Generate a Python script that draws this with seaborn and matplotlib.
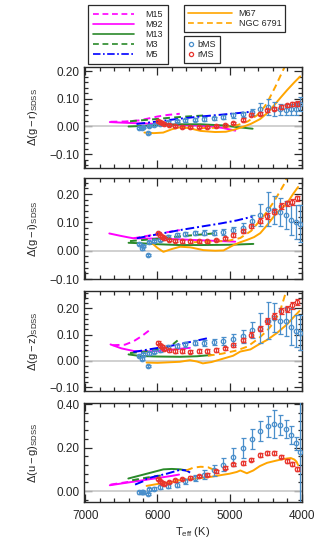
import matplotlib
matplotlib.use('Agg')
import matplotlib.pyplot as plt
import matplotlib.ticker as mticker
from matplotlib.lines import Line2D
import seaborn as sns

# ---------------- data ----------------
# bMS / rMS binned points, shared Teff grid for all four colours
bms_teff = [6250, 6220, 6195, 6135, 6120, 6045, 5960, 5860, 5730, 5615, 5475, 5350, 5210,
            5085, 4945, 4815, 4690, 4575, 4470, 4380, 4295, 4215, 4145, 4075, 4020]
rms_teff = [5985, 5960, 5940, 5915, 5845, 5755, 5660, 5545, 5430, 5315, 5190, 5060, 4945,
            4815, 4705, 4575, 4480, 4380, 4280, 4205, 4135, 4065]

# g-r
gr_bms = [-0.005, -0.005, -0.001, -0.023, 0.001, 0.005, 0.009, 0.015, 0.020, 0.022, 0.025, 0.027, 0.030,
          0.034, 0.040, 0.044, 0.053, 0.062, 0.071, 0.064, 0.062, 0.061, 0.062, 0.065, 0.080]
gr_bms_err = [0.003, 0.003, 0.003, 0.003, 0.003, 0.003, 0.004, 0.004, 0.004, 0.005, 0.005, 0.006, 0.006,
              0.007, 0.008, 0.010, 0.012, 0.022, 0.028, 0.025, 0.020, 0.020, 0.020, 0.022, 0.025]
gr_rms = [0.021, 0.015, 0.012, 0.009, 0.004, 0.001, -0.001, -0.002, -0.002, -0.002, 0.001, 0.006, 0.013,
          0.025, 0.042, 0.046, 0.058, 0.065, 0.071, 0.076, 0.082, 0.083]
gr_rms_err = [0.004] * 14 + [0.005, 0.006, 0.006, 0.006, 0.007, 0.007, 0.008, 0.008]

# g-i
gi_bms = [0.024, 0.008, 0.016, -0.015, 0.032, 0.035, 0.038, 0.049, 0.055, 0.059, 0.061, 0.064, 0.064,
          0.067, 0.073, 0.082, 0.106, 0.126, 0.146, 0.143, 0.138, 0.125, 0.110, 0.100, 0.095]
gi_bms_err = [0.004, 0.004, 0.004, 0.004, 0.004, 0.004, 0.005, 0.005, 0.006, 0.006, 0.007, 0.008, 0.009,
              0.010, 0.012, 0.015, 0.020, 0.040, 0.060, 0.050, 0.050, 0.050, 0.055, 0.060, 0.065]
gi_rms = [0.061, 0.055, 0.049, 0.044, 0.038, 0.035, 0.034, 0.034, 0.034, 0.034, 0.038, 0.044, 0.055,
          0.071, 0.087, 0.106, 0.122, 0.138, 0.158, 0.167, 0.173, 0.185]
gi_rms_err = [0.005] * 12 + [0.006, 0.007, 0.008, 0.009, 0.010, 0.010, 0.010, 0.010, 0.010, 0.010]

# g-z
gz_bms = [0.019, 0.009, 0.025, -0.019, 0.029, 0.035, 0.042, 0.054, 0.057, 0.063, 0.069, 0.069, 0.072,
          0.075, 0.082, 0.094, 0.117, 0.126, 0.153, 0.164, 0.153, 0.151, 0.130, 0.113, 0.107]
gz_bms_err = [0.005, 0.005, 0.005, 0.005, 0.005, 0.005, 0.006, 0.007, 0.008, 0.009, 0.010, 0.011, 0.012,
              0.015, 0.020, 0.025, 0.030, 0.057, 0.070, 0.055, 0.050, 0.055, 0.070, 0.060, 0.066]
gz_rms = [0.069, 0.060, 0.054, 0.047, 0.040, 0.038, 0.038, 0.036, 0.038, 0.038, 0.042, 0.048, 0.060,
          0.079, 0.100, 0.123, 0.151, 0.170, 0.189, 0.197, 0.211, 0.223]
gz_rms_err = [0.006] * 12 + [0.007, 0.008, 0.009, 0.010, 0.011, 0.012, 0.012, 0.012, 0.012, 0.012]

# u-g
ug_bms = [-0.006, -0.006, -0.006, -0.014, 0.008, 0.012, 0.018, 0.024, 0.030, 0.045, 0.061, 0.076, 0.095,
          0.121, 0.156, 0.197, 0.239, 0.277, 0.297, 0.308, 0.303, 0.285, 0.258, 0.221, 0.182]
ug_bms_err = [0.005, 0.005, 0.005, 0.005, 0.006, 0.007, 0.008, 0.010, 0.012, 0.013, 0.015, 0.020, 0.025,
              0.030, 0.040, 0.045, 0.045, 0.045, 0.050, 0.065, 0.045, 0.040, 0.040, 0.030, 0.450]
ug_rms = [0.055, 0.045, 0.039, 0.035, 0.042, 0.050, 0.055, 0.062, 0.070, 0.076, 0.091, 0.108, 0.123,
          0.129, 0.145, 0.167, 0.176, 0.176, 0.159, 0.138, 0.123, 0.103]
ug_rms_err = [0.006] * 12 + [0.007, 0.008, 0.008, 0.009, 0.009, 0.009, 0.009, 0.009, 0.009, 0.009]

# cluster fiducial sequences: (teff, delta) per panel
gr_m15 = ([6650, 6450, 6250, 6000, 5850, 5690], [0.017, 0.018, 0.022, 0.036, 0.042, 0.046])
gr_m92 = ([6660, 6500, 6300, 6100, 5900, 5700, 5500, 5300, 5100, 4920],
          [0.016, 0.014, 0.012, 0.010, 0.008, 0.006, 0.004, 0.001, -0.005, -0.015])
gr_m13 = ([6400, 6200, 6000, 5700, 5400, 5100, 4900, 4680], [0.0, 0.002, 0.005, 0.008, 0.008, 0.004, -0.002, -0.008])
gr_m3 = ([6380, 6100, 5850, 5600, 5340], [0.019, 0.025, 0.031, 0.036, 0.040])
gr_m5 = ([6290, 6000, 5700, 5400, 5100, 4900, 4670], [0.009, 0.018, 0.028, 0.036, 0.043, 0.048, 0.054])
gr_m67 = ([6180, 6050, 5920, 5800, 5690, 5560, 5400, 5200, 5050, 4940, 4800, 4700, 4575, 4480, 4390, 4290, 4200, 4100, 4020],
          [-0.022, -0.024, -0.022, -0.010, -0.003, -0.006, -0.016, -0.020, -0.019, -0.012, 0.0, 0.010, 0.027,
           0.048, 0.074, 0.105, 0.132, 0.160, 0.181])
gr_n6791 = ([5400, 5100, 4900, 4750, 4620, 4520, 4480, 4364, 4271, 4200],
            [-0.006, -0.004, 0.004, 0.018, 0.040, 0.070, 0.085, 0.144, 0.196, 0.235])

gi_m15 = ([6330, 6150, 6000, 5850, 5690], [0.044, 0.052, 0.059, 0.066, 0.073])
gi_m92 = ([6667, 6520, 6400, 6333, 6150, 6008, 5685, 5222, 4921],
          [0.061, 0.053, 0.047, 0.044, 0.043, 0.043, 0.040, 0.035, 0.032])
gi_m13 = ([6400, 6200, 6000, 5700, 5400, 5000, 4670], [0.028, 0.026, 0.023, 0.020, 0.020, 0.021, 0.024])
gi_m3 = ([6380, 6100, 5800, 5500, 5220], [0.034, 0.040, 0.048, 0.055, 0.061])
gi_m5 = ([6286, 6000, 5685, 5400, 5130, 4900, 4690], [0.044, 0.058, 0.073, 0.085, 0.096, 0.107, 0.120])
gi_m67 = ([6080, 6000, 5917, 5800, 5685, 5546, 5361, 5200, 5083, 4944, 4850, 4759, 4660, 4574, 4480, 4389, 4300, 4204, 4120, 4050],
          [0.028, 0.010, -0.004, 0.006, 0.014, 0.012, 0.002, 0.0, 0.001, 0.020, 0.030, 0.038, 0.048, 0.062,
           0.090, 0.120, 0.145, 0.167, 0.200, 0.225])
gi_n6791 = ([5500, 5200, 5000, 4850, 4700, 4600, 4480, 4380, 4250, 4180],
            [0.030, 0.032, 0.036, 0.045, 0.070, 0.100, 0.138, 0.175, 0.232, 0.270])

gz_m15 = ([6620, 6450, 6330, 6220, 6120], [0.060, 0.062, 0.075, 0.094, 0.115])
gz_m92 = ([6650, 6500, 6330, 6150, 5900, 5700, 5550], [0.063, 0.048, 0.038, 0.036, 0.040, 0.046, 0.050])
gz_m13 = ([6400, 6240, 6000, 5685, 5450, 5245], [0.025, 0.019, 0.017, 0.016, 0.018, 0.023])
gz_m3 = ([6380, 6200, 5950, 5800, 5720], [0.030, 0.035, 0.045, 0.060, 0.078])
gz_m5 = ([6333, 6100, 5824, 5550, 5314], [0.034, 0.045, 0.057, 0.072, 0.086])
gz_m67 = ([6150, 6000, 5850, 5690, 5550, 5450, 5370, 5250, 5100, 4950, 4850, 4710, 4600, 4480, 4340, 4200, 4100, 4030],
          [-0.006, -0.007, -0.005, -0.003, 0.003, -0.002, -0.009, -0.004, 0.008, 0.020, 0.036, 0.044, 0.062,
           0.080, 0.107, 0.140, 0.170, 0.190])
gz_n6791 = ([5300, 5100, 4900, 4750, 4600, 4480, 4390, 4300, 4250, 4210],
            [0.020, 0.028, 0.040, 0.055, 0.085, 0.115, 0.145, 0.190, 0.233, 0.270])

ug_m15 = ([6650, 6450, 6250, 6050], [0.030, 0.040, 0.050, 0.060])
ug_m92 = ([6660, 6400, 6100, 5800, 5700], [0.027, 0.040, 0.055, 0.070, 0.076])
ug_m13 = ([6403, 6147, 5917, 5800, 5685, 5592], [0.058, 0.080, 0.100, 0.102, 0.100, 0.095])
ug_m3 = ([6350, 6150, 5950], [0.050, 0.062, 0.072])
ug_m5 = ([6310, 6200, 6147, 6000, 5870, 5685, 5592, 5546], [0.030, 0.045, 0.058, 0.070, 0.080, 0.098, 0.094, 0.085])
ug_m67 = ([6150, 5960, 5800, 5690, 5550, 5400, 5250, 5130, 5000, 4900, 4850, 4760, 4670, 4580, 4480, 4380, 4290, 4200, 4150, 4100, 4070, 4050],
          [0.024, 0.035, 0.042, 0.050, 0.055, 0.060, 0.066, 0.073, 0.080, 0.088, 0.095, 0.082, 0.095, 0.115,
           0.130, 0.138, 0.145, 0.150, 0.152, 0.145, 0.135, 0.120])
ug_n6791 = ([5600, 5500, 5400, 5300, 5230, 5200], [0.095, 0.108, 0.112, 0.110, 0.100, 0.085])

ylabels = [r'$\Delta(\mathrm{g-r})_{\mathrm{SDSS}}$', r'$\Delta(\mathrm{g-i})_{\mathrm{SDSS}}$',
           r'$\Delta(\mathrm{g-z})_{\mathrm{SDSS}}$', r'$\Delta(\mathrm{u-g})_{\mathrm{SDSS}}$']

# ---------------- style ----------------
sns.set_theme(style='ticks')
plt.rcParams['font.family'] = ['Liberation Sans', 'DejaVu Sans']
plt.rcParams['mathtext.fontset'] = 'custom'
plt.rcParams['mathtext.rm'] = 'Liberation Sans'
plt.rcParams['mathtext.it'] = 'Liberation Sans:italic'
plt.rcParams['mathtext.bf'] = 'Liberation Sans:bold'

MAG, GRN, BLU, ORA = '#ff00ff', '#2a8a2a', '#0000ff', '#ffa500'
BCOL, RCOL = '#4a8fcb', '#e8352e'
AXC = '#2a2a2a'
DASH = (3.5, 2.2)
DASHDOT = (4.5, 1.5, 1.0, 1.5)

fig = plt.figure(figsize=(3.36, 5.6), dpi=100)

L, W = 84 / 336, 218 / 336
boxes = [(67, 168), (178, 279), (291, 391), (403, 502)]
ylims = [(-0.15, 0.215), (-0.10, 0.257), (-0.114, 0.266), (-0.05, 0.405)]
ymaj = [0.1, 0.1, 0.1, 0.2]
ymin = [0.02, 0.02, 0.02, 0.04]

panels = [
    (gr_m15, gr_m92, gr_m13, gr_m3, gr_m5, gr_m67, gr_n6791, gr_bms, gr_bms_err, gr_rms, gr_rms_err),
    (gi_m15, gi_m92, gi_m13, gi_m3, gi_m5, gi_m67, gi_n6791, gi_bms, gi_bms_err, gi_rms, gi_rms_err),
    (gz_m15, gz_m92, gz_m13, gz_m3, gz_m5, gz_m67, gz_n6791, gz_bms, gz_bms_err, gz_rms, gz_rms_err),
    (ug_m15, ug_m92, ug_m13, ug_m3, ug_m5, ug_m67, ug_n6791, ug_bms, ug_bms_err, ug_rms, ug_rms_err),
]


def minus_fmt(v, pos):
    return ('%.2f' % v).replace('-', '\u2212')


for i, (top, bot) in enumerate(boxes):
    ax = fig.add_axes([L, 1 - bot / 560, W, (bot - top) / 560])
    m15, m92, m13, m3, m5, m67, n6791, bv, be, rv, re_ = panels[i]

    ax.axhline(0, color='#c8c8c8', lw=1.2, zorder=1)

    curves = [
        (m92, MAG, None), (m15, MAG, DASH),
        (m13, GRN, None), (m3, GRN, DASH),
        (m5, BLU, DASHDOT),
        (m67, ORA, None), (n6791, ORA, DASH),
    ]
    for (tt, vv), col, dsh in curves:
        sns.lineplot(x=tt, y=vv, ax=ax, color=col, lw=1.4, sort=False, estimator=None, zorder=2)
        if dsh is not None:
            ax.lines[-1].set_dashes(dsh)

    ax.errorbar(bms_teff, bv, yerr=be, fmt='o', ms=3.2, mfc='none', mec=BCOL, mew=0.9,
                ecolor=BCOL, elinewidth=0.9, capsize=1.8, capthick=0.9, zorder=3)
    ax.errorbar(rms_teff, rv, yerr=re_, fmt='o', ms=3.2, mfc='none', mec=RCOL, mew=0.9,
                ecolor=RCOL, elinewidth=0.9, capsize=1.8, capthick=0.9, zorder=4)

    ax.set_xlim(7018, 3995)
    ax.set_ylim(*ylims[i])
    ax.xaxis.set_major_locator(mticker.MultipleLocator(1000))
    ax.xaxis.set_minor_locator(mticker.MultipleLocator(200))
    ax.yaxis.set_major_locator(mticker.MultipleLocator(ymaj[i]))
    ax.yaxis.set_minor_locator(mticker.MultipleLocator(ymin[i]))
    ax.yaxis.set_major_formatter(mticker.FuncFormatter(minus_fmt))
    ax.tick_params(which='both', direction='in', top=True, right=True, color=AXC, width=0.9,
                   labelsize=8.5, pad=3)
    ax.tick_params(which='major', length=5.5)
    ax.tick_params(which='minor', length=2.8)
    for s in ax.spines.values():
        s.set_color(AXC)
        s.set_linewidth(1.0)
    ax.set_ylabel(ylabels[i], fontsize=8)
    ax.yaxis.set_label_coords(-0.20, 0.5)
    if i < 3:
        ax.set_xticklabels([])
        ax.set_xlabel('')
    else:
        ax.xaxis.set_major_formatter(mticker.FormatStrFormatter('%d'))
        ax.tick_params(axis='x', labelsize=8.5, pad=6)
        ax.set_xlabel(r'$\mathrm{T}_{\mathrm{eff}}$ (K)', fontsize=8, labelpad=2)

# ---------------- legends ----------------
h1 = [Line2D([], [], color=MAG, lw=1.2, dashes=DASH, label='M15'),
      Line2D([], [], color=MAG, lw=1.2, label='M92'),
      Line2D([], [], color=GRN, lw=1.2, label='M13'),
      Line2D([], [], color=GRN, lw=1.2, dashes=DASH, label='M3'),
      Line2D([], [], color=BLU, lw=1.2, dashes=DASHDOT, label='M5')]
h2 = [Line2D([], [], color=ORA, lw=1.2, label='M67'),
      Line2D([], [], color=ORA, lw=1.2, dashes=DASH, label='NGC 6791')]
h3 = [Line2D([], [], ls='none', marker='o', ms=3, mfc='none', mec=BCOL, mew=0.9, label='bMS'),
      Line2D([], [], ls='none', marker='o', ms=3, mfc='none', mec=RCOL, mew=0.9, label='rMS')]

common = dict(loc='upper left', frameon=True, fancybox=False, edgecolor=AXC, fontsize=6.5,
              labelspacing=0.12, borderaxespad=0, framealpha=1)
lg1 = fig.legend(handles=h1, bbox_to_anchor=(88 / 336, 1 - 5 / 560), handlelength=4.6,
                 handletextpad=1.2, borderpad=0.55, **common)
lg2 = fig.legend(handles=h2, bbox_to_anchor=(184 / 336, 1 - 5 / 560), handlelength=4.9,
                 handletextpad=0.7, borderpad=0.45, **common)
lg3 = fig.legend(handles=h3, bbox_to_anchor=(184 / 336, 1 - 36 / 560), handlelength=0.7,
                 handletextpad=0.3, borderpad=0.45, **common)
for lg in (lg1, lg2, lg3):
    lg.get_frame().set_linewidth(0.9)

fig.savefig('out.png', dpi=100)
